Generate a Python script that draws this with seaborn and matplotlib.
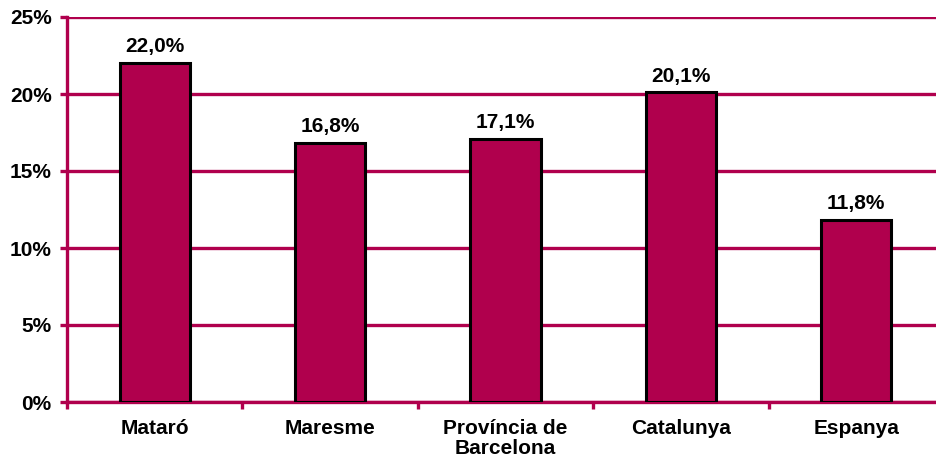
import numpy as np
import seaborn as sns
import matplotlib.pyplot as plt
from matplotlib.ticker import FixedLocator, FuncFormatter

# dati
categorie = ["Mataró", "Maresme", "Província de\nBarcelona", "Catalunya", "Espanya"]
valori = [22.0, 16.8, 17.1, 20.1, 11.8]
etichette = ["22,0%", "16,8%", "17,1%", "20,1%", "11,8%"]

colore = "#B0004D"

sns.set_style("white")
plt.rcParams["font.family"] = ["Liberation Sans", "DejaVu Sans"]
plt.rcParams["font.weight"] = "bold"
plt.rcParams["text.color"] = "black"
plt.rcParams["xtick.labelcolor"] = "black"
plt.rcParams["ytick.labelcolor"] = "black"

fig = plt.figure(figsize=(9.36, 4.58), dpi=100)
# l'asse continua oltre il bordo destro, come nell'originale
ax = fig.add_axes([67 / 936, 1 - 402 / 458, (944 - 67) / 936, (402 - 17) / 458])

sns.barplot(x=categorie, y=valori, color=colore, saturation=1, width=0.4,
            edgecolor="black", linewidth=2.2, ax=ax, zorder=3)

ax.set_ylim(0, 25)
ax.set_xlim(-0.5, 4.5)
ax.set_yticks(np.arange(0, 26, 5))
ax.yaxis.set_major_formatter(FuncFormatter(lambda v, p: f"{int(v)}%"))
ax.grid(axis="y", color=colore, linewidth=2.4, zorder=1)
ax.set_axisbelow(True)

for s in ["top", "right"]:
    ax.spines[s].set_visible(False)
for s in ["left", "bottom"]:
    ax.spines[s].set_color(colore)
    ax.spines[s].set_linewidth(2.4)

ax.tick_params(axis="y", which="major", length=5, width=2.4, color=colore,
               labelsize=15, pad=6, left=True)
ax.tick_params(axis="x", which="major", length=0, labelsize=15, pad=12)
ax.xaxis.set_minor_locator(FixedLocator(np.arange(-0.5, 5, 1)))
ax.tick_params(axis="x", which="minor", length=5, width=2.4, color=colore, bottom=True)
ax.set_xticklabels(categorie, linespacing=1.1)
for lab in ax.get_xticklabels() + ax.get_yticklabels():
    lab.set_fontweight("bold")
    lab.set_color("black")

for i, (v, t) in enumerate(zip(valori, etichette)):
    ax.annotate(t, (i, v), xytext=(0, 5), textcoords="offset points",
                ha="center", va="bottom", fontsize=15, fontweight="bold", color="black")

ax.set_xlabel("")
ax.set_ylabel("")

fig.savefig("out.png", dpi=100)
